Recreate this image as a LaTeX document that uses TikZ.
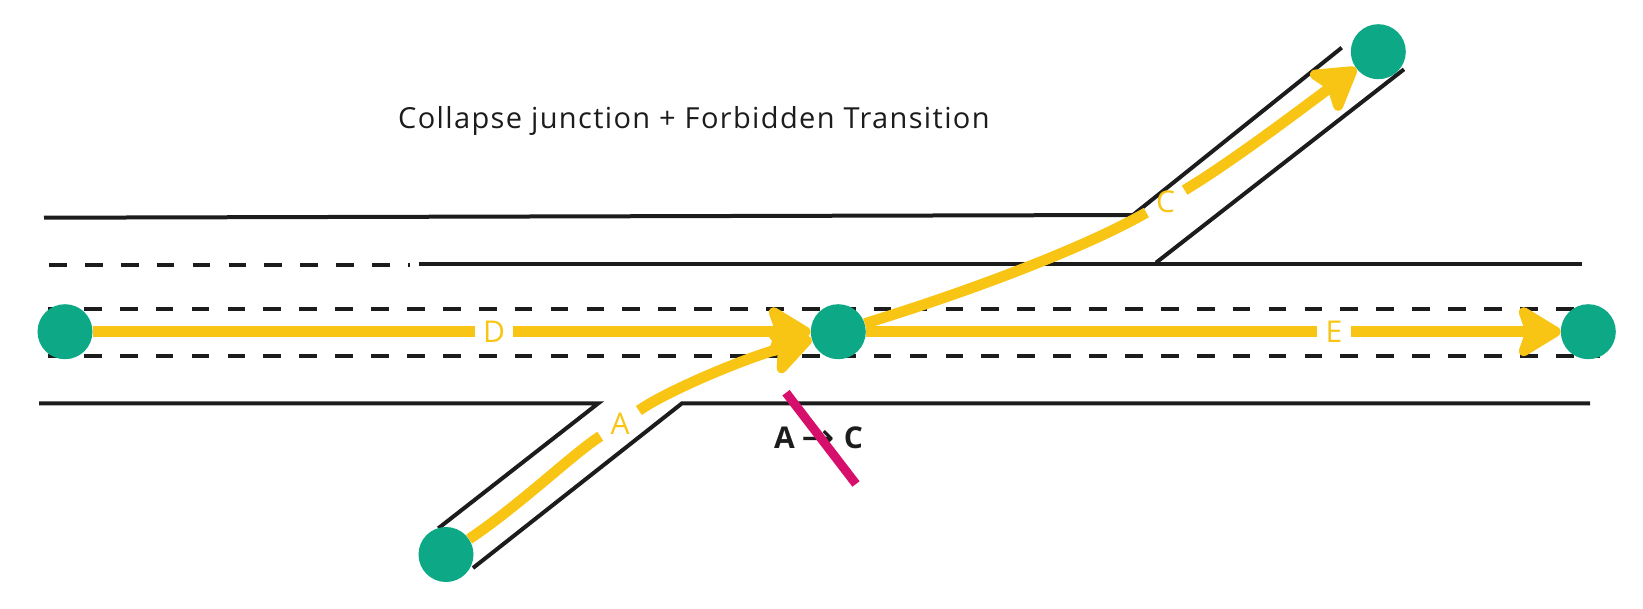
\documentclass[tikz,border=0pt]{standalone}
\usepackage{fontspec}
\setmainfont{Open Sans}
\newfontfamily\arrowfont{DejaVu Sans}
\usetikzlibrary{arrows.meta}
\definecolor{roadblack}{HTML}{1C1C1C}
\definecolor{pathyellow}{HTML}{F8C515}
\definecolor{stopteal}{HTML}{0DA886}
\definecolor{banpink}{HTML}{D70F6C}
\tikzset{
  road/.style={line width=4pt, color=roadblack},
  lane/.style={road, dash pattern=on 17.7pt off 18.2pt},
  stopdot/.style={circle, fill=stopteal, minimum size=55pt, inner sep=0pt},
  lab/.style={circle, inner sep=0pt, text=pathyellow, font=\fontsize{30}{36}\selectfont},
  route/.style={line width=10.7pt, color=pathyellow},
  routearrow/.style={route, -{Stealth[length=50pt, width=60pt, inset=10pt, round]}},
}
\begin{document}
\begin{tikzpicture}[x=1pt,y=-1pt]
\useasboundingbox (0,0) rectangle (1643,608);

% title
\node[anchor=base west, inner sep=0pt, font=\fontsize{29}{34}\selectfont\addfontfeatures{LetterSpace=4.7}, text=roadblack] (title) at (398,128.3) {Collapse junction + Forbidden Transition};

% roads
\draw[road] (44,217.7) -- (1133,215) -- (1341.7,47.7);
\draw[road] (1156,262.7) -- (1404,69.3);
\draw[lane] (49,264.7) -- (410,264.7);
\draw[road] (419,264.3) -- (1581.7,264.3);
\draw[lane] (48,308.5) -- (1600,308.5);
\draw[lane] (48,356) -- (1600,356);
\draw[road] (39,403.3) -- (598.3,403.3) -- (438.3,528.3);
\draw[road] (473,568) -- (682,403.3) -- (1590,403.3);

% stops
\node[stopdot] (c1) at (65,331.7) {};
\node[stopdot] (c2) at (838.3,331.7) {};
\node[stopdot] (c3) at (1378.3,51.7) {};
\node[stopdot] (c4) at (1588.3,331.7) {};
\node[stopdot] (cA) at (446,554.5) {};

% route labels
\node[lab, minimum size=37pt] (lD) at (494,331.7) {D};
\node[lab, minimum size=34pt] (lE) at (1334,331.7) {E};
\node[lab, minimum size=46pt] (lA) at (620,424) {A};
\node[lab, minimum size=44pt] (lC) at (1165.5,201.5) {C};

% routes
\draw[route] (c1) -- (lD);
\draw[routearrow] (lD) -- (c2);
\draw[route] (c2) -- (lE);
\draw[routearrow] (lE) -- (c4);
\draw[route] (cA) .. controls (520,505) and (575,452) .. (lA);
\draw[routearrow] (lA) .. controls (665,392) and (740,360) .. (c2);
\draw[route] (c2) .. controls (980,288) and (1090,245) .. (lC);
\draw[routearrow] (lC) .. controls (1230,163) and (1300,110) .. (c3);

% forbidden transition
\node[anchor=base west, inner sep=0pt, font=\fontsize{30}{36}\selectfont\bfseries, text=roadblack] (ac) at (774,448.3) {A\hspace{7pt}\raisebox{-3pt}{\arrowfont\mdseries\fontsize{40}{44}\selectfont →}\hspace{8.5pt}C};
\draw[line width=9pt, color=banpink] (786,392.7) -- (856,484);
\end{tikzpicture}
\end{document}
